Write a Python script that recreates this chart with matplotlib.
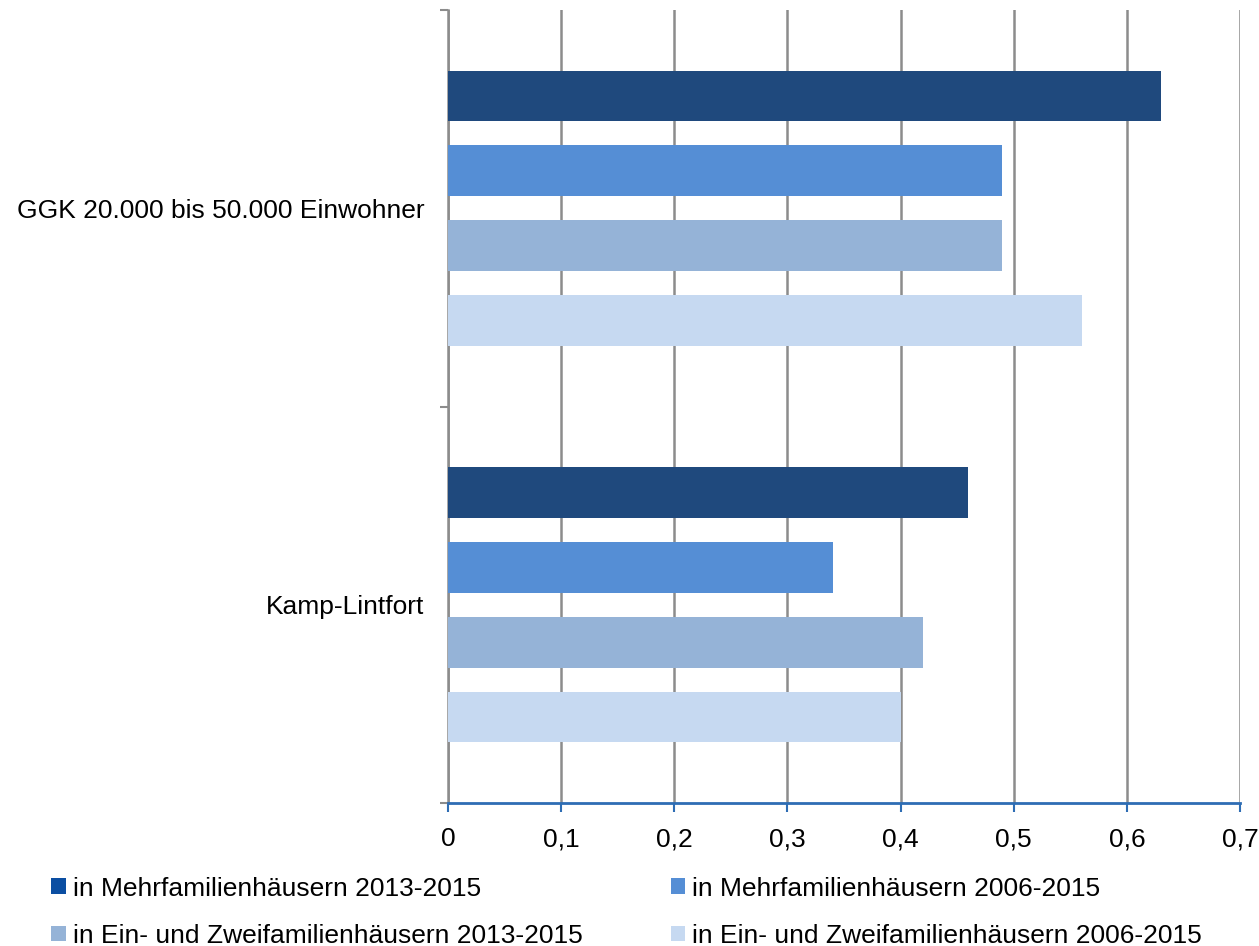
import numpy as np
import matplotlib.pyplot as plt
from matplotlib.patches import Patch

plt.rcParams['font.family'] = ['Liberation Sans', 'DejaVu Sans']

# data (bottom to top on the chart)
categories = ['Kamp-Lintfort', 'GGK 20.000 bis 50.000 Einwohner']
series_names = ['in Mehrfamilienhäusern 2013-2015',
                'in Mehrfamilienhäusern 2006-2015',
                'in Ein- und Zweifamilienhäusern 2013-2015',
                'in Ein- und Zweifamilienhäusern 2006-2015']
mfh_2013 = [0.46, 0.63]
mfh_2006 = [0.34, 0.49]
ezfh_2013 = [0.42, 0.49]
ezfh_2006 = [0.40, 0.56]
xticks = [0, 0.1, 0.2, 0.3, 0.4, 0.5, 0.6, 0.7]

values = [mfh_2013, mfh_2006, ezfh_2013, ezfh_2006]
colors = ['#1F497D', '#558ED5', '#95B3D7', '#C6D9F1']
legend_colors = ['#0B4EA2', '#558ED5', '#95B3D7', '#C6D9F1']
offsets = [0.283, 0.0945, -0.0945, -0.283]
bar_h = 0.128

fig = plt.figure(figsize=(12.59, 9.46), dpi=100)
ax = fig.add_axes([448/1259, 1-803/946, (1240-448)/1259, (803-10)/946])

y = np.arange(len(categories))
for vals, col, off in zip(values, colors, offsets):
    ax.barh(y + off, vals, height=bar_h, color=col, zorder=3)

ax.set_xlim(0, 0.7)
ax.set_ylim(-0.5, 1.5)

ax.set_xticks(xticks)
ax.set_xticklabels([('%g' % t).replace('.', ',') for t in xticks], fontsize=19)
ax.tick_params(axis='x', direction='out', length=6.5, width=1.5, color='#2E6DB4', pad=11)

ax.set_yticks(y)
ax.set_yticklabels(categories, fontsize=19)
ax.tick_params(axis='y', which='major', length=0, pad=17)
ax.set_yticks([-0.5, 0.5, 1.5], minor=True)
ax.tick_params(axis='y', which='minor', length=6, width=1.5, color='#8C8C8C')

ax.xaxis.grid(True, color='#8C8C8C', linewidth=1.8, zorder=0)
ax.set_axisbelow(True)

for s in ['top', 'right']:
    ax.spines[s].set_visible(False)
ax.spines['left'].set_color('#8C8C8C')
ax.spines['left'].set_linewidth(1.8)
ax.spines['bottom'].set_color('#2E6DB4')
ax.spines['bottom'].set_linewidth(2)

# legend, row-wise order
order = [0, 2, 1, 3]
handles = [Patch(facecolor=legend_colors[i], edgecolor='none') for i in order]
labels = [series_names[i] for i in order]
fig.legend(handles, labels, ncol=2, loc='lower left', bbox_to_anchor=(0.022, -0.027),
           frameon=False, fontsize=19, handlelength=0.55, handleheight=0.55,
           handletextpad=0.25, columnspacing=3.35, labelspacing=0.88)

fig.savefig('out.png', dpi=100)
